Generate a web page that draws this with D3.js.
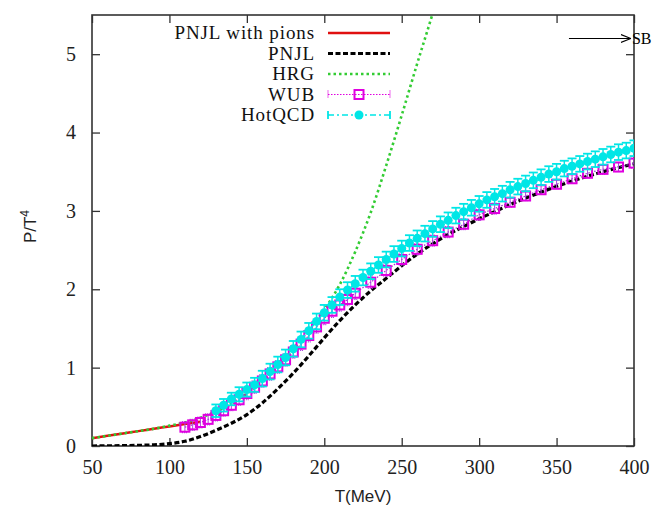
<!DOCTYPE html>
<html>
<head>
<meta charset="utf-8">
<script src="https://cdn.jsdelivr.net/npm/d3@7"></script>
<style>
  body { margin: 0; background: #fff; }
  .axis line { stroke: #333; stroke-width: 1.3; }
  .axis path { display: none; }
</style>
</head>
<body>
<div id="chart"></div>
<script>
// ---- data ----
var xTicks = [50, 100, 150, 200, 250, 300, 350, 400];
var yTicks = [0, 1, 2, 3, 4, 5];

var pionT = [50, 60, 70, 80, 90, 100, 110, 120];
var pionP = [0.10, 0.13, 0.16, 0.19, 0.22, 0.25, 0.28, 0.31];

var pnjlT = [50, 60, 70, 80, 90, 100, 110, 120, 130, 140, 150, 160, 170, 180, 190, 200, 210, 220, 230, 240, 250, 260, 270, 280, 290, 300, 310, 320, 340, 360, 380, 400];
var pnjlP = [0.0, 0.002, 0.005, 0.008, 0.015, 0.03, 0.06, 0.12, 0.20, 0.29, 0.40, 0.55, 0.73, 0.93, 1.15, 1.38, 1.60, 1.80, 1.98, 2.14, 2.30, 2.45, 2.58, 2.70, 2.80, 2.90, 2.99, 3.08, 3.24, 3.38, 3.50, 3.60];

var hrgT = [50, 60, 70, 80, 90, 100, 110, 120, 130, 140, 150, 160, 170, 180, 190, 200, 210, 220, 230, 240, 250, 260, 270, 280];
var hrgP = [0.10, 0.13, 0.16, 0.19, 0.22, 0.26, 0.30, 0.36, 0.44, 0.54, 0.67, 0.83, 1.02, 1.24, 1.48, 1.74, 2.06, 2.48, 2.98, 3.58, 4.22, 4.88, 5.52, 6.2];

var wubT = [110, 115, 120, 125, 130, 135, 140, 145, 150, 155, 160, 165, 170, 175, 180, 185, 190, 195, 200, 205, 210, 215, 220, 230, 240, 250, 260, 270, 280, 290, 300, 310, 320, 330, 340, 350, 360, 370, 380, 390, 400];
var wubP = [0.24, 0.27, 0.30, 0.34, 0.39, 0.45, 0.52, 0.59, 0.67, 0.75, 0.83, 0.92, 1.01, 1.10, 1.20, 1.30, 1.41, 1.52, 1.63, 1.72, 1.80, 1.87, 1.95, 2.09, 2.24, 2.38, 2.51, 2.62, 2.73, 2.83, 2.95, 3.03, 3.11, 3.19, 3.27, 3.34, 3.41, 3.48, 3.53, 3.56, 3.61];
var wubE = [0.07, 0.07, 0.07, 0.07, 0.07, 0.07, 0.07, 0.07, 0.08, 0.08, 0.08, 0.08, 0.08, 0.08, 0.08, 0.08, 0.08, 0.08, 0.08, 0.08, 0.08, 0.08, 0.08, 0.08, 0.08, 0.08, 0.07, 0.07, 0.07, 0.07, 0.07, 0.07, 0.06, 0.06, 0.06, 0.06, 0.06, 0.06, 0.06, 0.06, 0.06];

var hotT = [130, 135, 140, 145, 150, 155, 160, 165, 170, 175, 180, 185, 190, 195, 200, 205, 210, 215, 220, 225, 230, 235, 240, 245, 250, 255, 260, 265, 270, 275, 280, 285, 290, 295, 300, 305, 310, 315, 320, 325, 330, 335, 340, 345, 350, 355, 360, 365, 370, 375, 380, 385, 390, 395, 400];
var hotP = [0.45, 0.52, 0.60, 0.66, 0.72, 0.78, 0.86, 0.95, 1.04, 1.13, 1.24, 1.36, 1.47, 1.59, 1.70, 1.80, 1.90, 1.99, 2.07, 2.15, 2.23, 2.31, 2.38, 2.45, 2.52, 2.59, 2.65, 2.71, 2.77, 2.83, 2.88, 2.94, 2.99, 3.04, 3.09, 3.14, 3.18, 3.22, 3.27, 3.31, 3.35, 3.39, 3.43, 3.47, 3.50, 3.54, 3.57, 3.60, 3.63, 3.66, 3.69, 3.72, 3.75, 3.77, 3.80];
var hotE = [0.08, 0.08, 0.08, 0.09, 0.09, 0.09, 0.1, 0.1, 0.1, 0.1, 0.1, 0.1, 0.1, 0.1, 0.1, 0.1, 0.1, 0.1, 0.1, 0.1, 0.1, 0.1, 0.1, 0.1, 0.1, 0.1, 0.1, 0.1, 0.1, 0.1, 0.1, 0.1, 0.1, 0.1, 0.1, 0.1, 0.1, 0.1, 0.1, 0.1, 0.1, 0.1, 0.1, 0.1, 0.1, 0.1, 0.1, 0.1, 0.1, 0.1, 0.1, 0.1, 0.1, 0.1, 0.1];

var sbValue = 5.2;

var names = ["PNJL with pions", "PNJL", "HRG", "WUB", "HotQCD"];
var colors = ["#e01010", "#000000", "#33cc33", "#e000e0", "#00e6e6"];

var serif = "'Liberation Serif', 'Times New Roman', serif";
var sans = "'Liberation Sans', Arial, sans-serif";

// ---- layout ----
var margin = {top: 15, right: 18, bottom: 62, left: 92};
var width = 652 - margin.left - margin.right;
var height = 508 - margin.top - margin.bottom;

var svg = d3.select("#chart").append("svg")
    .attr("width", 652)
    .attr("height", 508)
  .append("g")
    .attr("transform", "translate(" + margin.left + "," + margin.top + ")");

var x = d3.scaleLinear().domain([50, 400]).range([0, width]);
var y = d3.scaleLinear().domain([0, 5.5]).range([height, 0]);

svg.append("clipPath").attr("id", "clip")
  .append("rect").attr("width", width).attr("height", height);

// axes, ticks pointing in on all four sides
var xb = svg.append("g").attr("class", "axis")
    .attr("transform", "translate(0," + height + ")")
    .call(d3.axisBottom(x).tickValues(xTicks).tickFormat(d3.format("d"))
      .tickSizeInner(-8).tickSizeOuter(0).tickPadding(14));
svg.append("g").attr("class", "axis")
    .call(d3.axisTop(x).tickValues(xTicks).tickSizeInner(-8).tickSizeOuter(0).tickFormat(""));
var yl0 = svg.append("g").attr("class", "axis")
    .call(d3.axisLeft(y).tickValues(yTicks).tickFormat(d3.format("d"))
      .tickSizeInner(-8).tickSizeOuter(0).tickPadding(16));
svg.append("g").attr("class", "axis")
    .attr("transform", "translate(" + width + ",0)")
    .call(d3.axisRight(y).tickValues(yTicks).tickSizeInner(-8).tickSizeOuter(0).tickFormat(""));

[xb, yl0].forEach(function(g) {
  g.selectAll("text")
      .style("font-family", serif).style("font-size", "20px").attr("fill", "#222");
});

svg.append("rect")
    .attr("width", width).attr("height", height)
    .attr("fill", "none").attr("stroke", "#333").attr("stroke-width", 1.6);

var plot = svg.append("g").attr("clip-path", "url(#clip)");

function pairs(ts, ps) {
  return ts.map(function(t, i) { return [t, ps[i]]; });
}
var line = d3.line().x(function(d) { return x(d[0]); }).y(function(d) { return y(d[1]); }).curve(d3.curveMonotoneX);

// PNJL with pions
plot.append("path").datum(pairs(pionT, pionP)).attr("d", line)
    .attr("fill", "none").attr("stroke", colors[0]).attr("stroke-width", 2.5);

// HRG
plot.append("path").datum(pairs(hrgT, hrgP)).attr("d", line)
    .attr("fill", "none").attr("stroke", colors[2]).attr("stroke-width", 2.6)
    .attr("stroke-dasharray", "2.5,3");

// PNJL
plot.append("path").datum(pairs(pnjlT, pnjlP)).attr("d", line)
    .attr("fill", "none").attr("stroke", colors[1]).attr("stroke-width", 3.2)
    .attr("stroke-dasharray", "5,2.5");

// WUB
var wub = wubT.map(function(t, i) { return {t: t, p: wubP[i], e: wubE[i]}; });
plot.append("path").datum(pairs(wubT, wubP)).attr("d", line)
    .attr("fill", "none").attr("stroke", "#9a30d0").attr("stroke-width", 1.2)
    .attr("stroke-dasharray", "1.5,1.5");
var wg = plot.selectAll(".wub").data(wub).enter().append("g").attr("class", "wub");
wg.append("line")
    .attr("x1", function(d) { return x(d.t); }).attr("x2", function(d) { return x(d.t); })
    .attr("y1", function(d) { return y(d.p - d.e); }).attr("y2", function(d) { return y(d.p + d.e); })
    .attr("stroke", "#b040e0").attr("stroke-width", 1);
wg.selectAll(".cap").data(function(d) { return [[d.t, d.p - d.e], [d.t, d.p + d.e]]; })
  .enter().append("line")
    .attr("x1", function(d) { return x(d[0]) - 3; }).attr("x2", function(d) { return x(d[0]) + 3; })
    .attr("y1", function(d) { return y(d[1]); }).attr("y2", function(d) { return y(d[1]); })
    .attr("stroke", "#b040e0").attr("stroke-width", 1.2).attr("stroke-dasharray", "1,1");
wg.append("rect")
    .attr("x", function(d) { return x(d.t) - 4.5; }).attr("y", function(d) { return y(d.p) - 4.5; })
    .attr("width", 9).attr("height", 9)
    .attr("fill", "none").attr("stroke", colors[3]).attr("stroke-width", 2);

// HotQCD
var hot = hotT.map(function(t, i) { return {t: t, p: hotP[i], e: hotE[i]}; });
plot.append("path").datum(pairs(hotT, hotP)).attr("d", line)
    .attr("fill", "none").attr("stroke", colors[4]).attr("stroke-width", 1.5)
    .attr("stroke-dasharray", "6,3,2,3");
var hg = plot.selectAll(".hot").data(hot).enter().append("g").attr("class", "hot");
hg.append("line")
    .attr("x1", function(d) { return x(d.t); }).attr("x2", function(d) { return x(d.t); })
    .attr("y1", function(d) { return y(d.p - d.e); }).attr("y2", function(d) { return y(d.p + d.e); })
    .attr("stroke", colors[4]).attr("stroke-width", 1.5);
hg.selectAll(".cap").data(function(d) { return [[d.t, d.p - d.e], [d.t, d.p + d.e]]; })
  .enter().append("line")
    .attr("x1", function(d) { return x(d[0]) - 4.5; }).attr("x2", function(d) { return x(d[0]) + 4.5; })
    .attr("y1", function(d) { return y(d[1]); }).attr("y2", function(d) { return y(d[1]); })
    .attr("stroke", colors[4]).attr("stroke-width", 1.8);
hg.append("circle")
    .attr("cx", function(d) { return x(d.t); }).attr("cy", function(d) { return y(d.p); })
    .attr("r", 4.5).attr("fill", colors[4]);

// SB arrow
svg.append("defs").append("marker")
    .attr("id", "arr").attr("viewBox", "0 0 10 10").attr("refX", 10).attr("refY", 5)
    .attr("markerWidth", 10).attr("markerHeight", 10).attr("markerUnits", "userSpaceOnUse")
    .attr("orient", "auto")
  .append("path").attr("d", "M0,1 L10,5 L0,9").attr("fill", "none").attr("stroke", "#000").attr("stroke-width", 1.2);
svg.append("line")
    .attr("x1", x(358)).attr("x2", x(398)).attr("y1", y(sbValue)).attr("y2", y(sbValue))
    .attr("stroke", "#000").attr("stroke-width", 1.2).attr("marker-end", "url(#arr)");
svg.append("text")
    .attr("x", x(398) + 1).attr("y", y(sbValue) + 5)
    .style("font-family", serif).style("font-size", "16px")
    .text("SB");

// legend
var leg = svg.append("g");
var rowY = [18, 38.5, 59, 79.5, 100];
names.forEach(function(n, i) {
  var yy = rowY[i];
  leg.append("text")
      .attr("x", 223).attr("y", yy + 6).attr("text-anchor", "end")
      .style("font-family", serif).style("font-size", "19px").style("letter-spacing", "0.9px")
      .attr("fill", "#111")
      .text(n);
  var l = leg.append("line").attr("x1", 236).attr("x2", 298).attr("y1", yy).attr("y2", yy)
      .attr("stroke", colors[i]);
  if (i == 0) l.attr("stroke-width", 2.5);
  if (i == 1) l.attr("stroke-width", 3.2).attr("stroke-dasharray", "5,2.5");
  if (i == 2) l.attr("stroke-width", 2.6).attr("stroke-dasharray", "2.5,3");
  if (i == 3) {
    l.attr("stroke-width", 1.2).attr("stroke-dasharray", "1.5,1.5");
    [236, 298].forEach(function(cx) {
      leg.append("line").attr("x1", cx).attr("x2", cx).attr("y1", yy - 4).attr("y2", yy + 4)
          .attr("stroke", colors[3]).attr("stroke-width", 1.2).attr("stroke-dasharray", "1,1");
    });
    leg.append("rect").attr("x", 262.5).attr("y", yy - 4.5).attr("width", 9).attr("height", 9)
        .attr("fill", "none").attr("stroke", colors[3]).attr("stroke-width", 2);
  }
  if (i == 4) {
    l.attr("stroke-width", 1.6).attr("stroke-dasharray", "6,3,2,3");
    [236, 298].forEach(function(cx) {
      leg.append("line").attr("x1", cx).attr("x2", cx).attr("y1", yy - 4).attr("y2", yy + 4)
          .attr("stroke", colors[4]).attr("stroke-width", 1.8);
    });
    leg.append("circle").attr("cx", 267).attr("cy", yy).attr("r", 4.5).attr("fill", colors[4]);
  }
});

// axis titles
svg.append("text")
    .attr("x", width / 2).attr("y", height + 56).attr("text-anchor", "middle")
    .style("font-family", sans).style("font-size", "17px").attr("fill", "#222")
    .text("T(MeV)");
var yl = svg.append("text")
    .attr("transform", "translate(-56," + (height / 2 - 4) + ") rotate(-90)")
    .attr("text-anchor", "middle")
    .style("font-family", sans).style("font-size", "17px").attr("fill", "#222");
yl.append("tspan").text("P/T");
yl.append("tspan").attr("dy", -7).style("font-size", "12px").text("4");
</script>
</body>
</html>
